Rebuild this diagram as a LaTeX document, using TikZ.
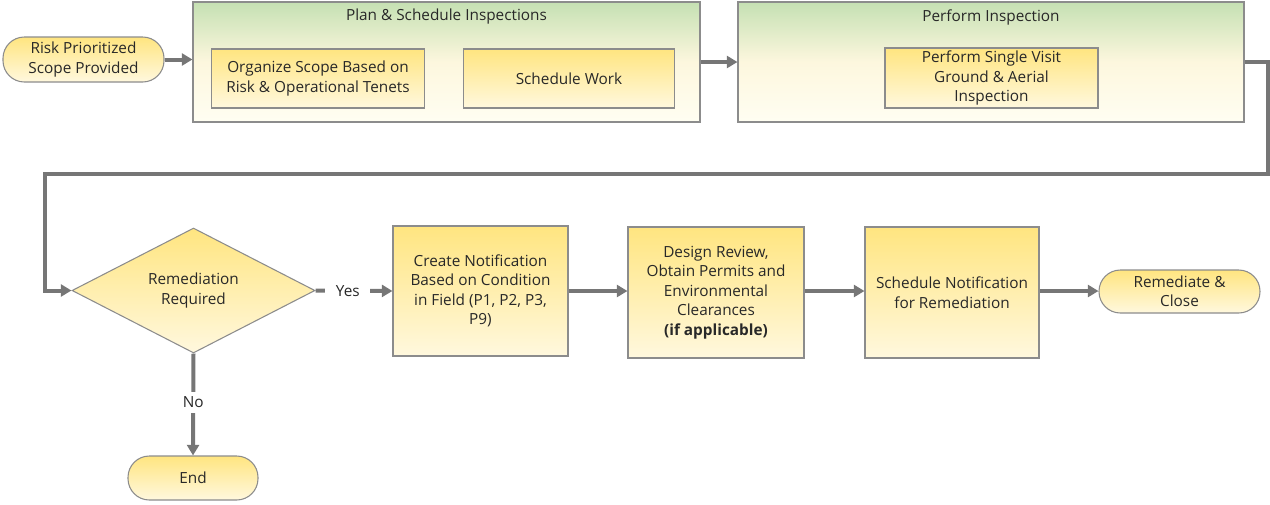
\documentclass[tikz,border=0pt]{standalone}
\usepackage{fontspec}
\setmainfont{Open Sans}
\usetikzlibrary{shapes.geometric,arrows.meta}
\definecolor{linegray}{RGB}{118,118,118}
\definecolor{edgegray}{RGB}{140,140,140}
\definecolor{textgray}{RGB}{40,40,40}
\definecolor{boxtop}{RGB}{255,229,128}
\definecolor{boxbot}{RGB}{255,248,222}
\definecolor{grptop}{RGB}{197,224,179}
\definecolor{grpmid}{RGB}{253,247,222}
\definecolor{grpbot}{RGB}{255,254,242}
\begin{document}
\begin{tikzpicture}[x=0.75pt,y=-0.75pt,
  font=\fontsize{11.5pt}{14.6pt}\selectfont,
  every node/.style={text=textgray,align=center,inner sep=0pt},
  stepbox/.style={rectangle,draw=edgegray,line width=0.8pt,top color=boxtop,bottom color=boxbot},
  endbox/.style={rectangle,rounded corners=16pt,draw=edgegray,line width=0.8pt,top color=boxtop,bottom color=boxbot},
  groupbox/.style={rectangle,draw=edgegray,line width=0.8pt,top color=grptop,bottom color=grpbot,middle color=grpmid},
  askbox/.style={diamond,aspect=2,draw=edgegray,line width=0.8pt,top color=boxtop,bottom color=boxbot},
  flow/.style={draw=linegray,line width=3pt,-{Triangle[length=8pt,width=9pt]}},
  tag/.style={fill=white,inner xsep=8pt,inner ysep=4pt}]
\useasboundingbox (0,0) rectangle (1270,504);

\node[endbox,minimum width=120.75pt,minimum height=33.75pt] (start) at (83.5,59.5) {Risk Prioritized\\Scope Provided};

\node[groupbox,minimum width=380.25pt,minimum height=90pt] (plan) at (446.5,62) {};
\node (plantitle) at (446.5,17) {Plan \& Schedule Inspections};
\node[stepbox,minimum width=159.4pt,minimum height=44.25pt] (organize) at (318,78.5) {Organize Scope Based on\\Risk \& Operational Tenets};
\node[stepbox,minimum width=157.9pt,minimum height=44.25pt] (schedwork) at (569,78.5) {Schedule Work};

\node[groupbox,minimum width=379.5pt,minimum height=90pt] (perform) at (991,62) {};
\node (performtitle) at (991,17) {Perform Inspection};
\node[stepbox,minimum width=159.75pt,minimum height=45pt] (visit) at (991.5,78) {Perform Single Visit\\Ground \& Aerial\\Inspection};

\node[askbox,minimum width=182.25pt,minimum height=93.75pt] (remreq) at (193.5,290.5) {Remediation\\Required};
\node[stepbox,minimum width=131.25pt,minimum height=97.5pt] (notif) at (480.5,291) {Create Notification\\Based on Condition\\in Field (P1, P2, P3,\\P9)};
\node[stepbox,minimum width=132pt,minimum height=98.25pt] (design) at (716,292.5) {Design Review,\\Obtain Permits and\\Environmental\\Clearances\\\textbf{(if applicable)}};
\node[stepbox,minimum width=130.5pt,minimum height=98.25pt] (schednotif) at (952,292.5) {Schedule Notification\\for Remediation};
\node[endbox,minimum width=120.75pt,minimum height=32.25pt] (close) at (1179.5,291.5) {Remediate \&\\Close};
\node[endbox,minimum width=97.5pt,minimum height=33pt] (end) at (193,478) {End};

\coordinate (turnR) at (1268,174);
\coordinate (turnL) at (45,174);

\draw[flow] (start.east) -- (start.east -| plan.west);
\draw[flow] (plan.east) -- (perform.west);
\draw[flow] (perform.east) -| (turnR) -- (turnL) |- (remreq.west);
\draw[flow] (remreq.east) -- node[tag,pos=0.42] (yes) {Yes} (notif.west);
\draw[flow] (remreq.south) -- node[tag,pos=0.48] (no) {No} (end.north);
\draw[flow] (notif.east) -- (notif.east -| design.west);
\draw[flow] (design.east |- notif.east) -- (notif.east -| schednotif.west);
\draw[flow] (schednotif.east |- notif.east) -- (notif.east -| close.west);
\end{tikzpicture}
\end{document}
